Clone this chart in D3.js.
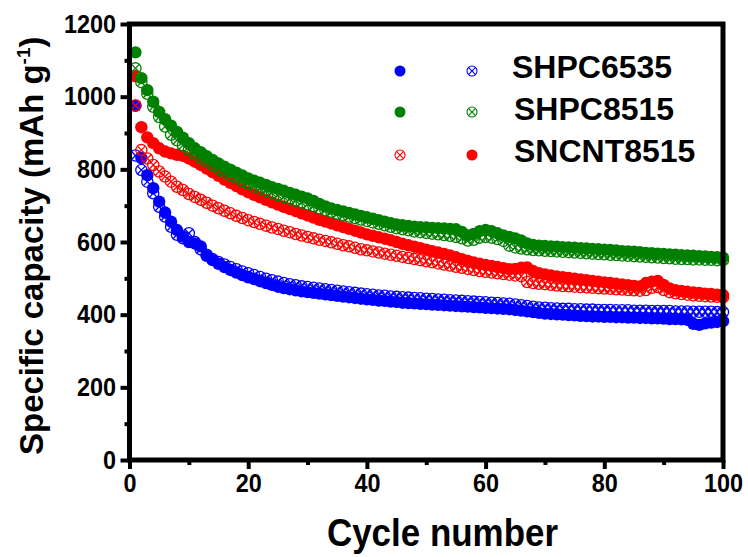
<!DOCTYPE html>
<html>
<head>
<meta charset="utf-8">
<script src="https://cdn.jsdelivr.net/npm/d3@7"></script>
<style>
  body { margin: 0; background: #fff; }
  svg { display: block; }
  text { font-family: "Liberation Sans", Arial, sans-serif; font-weight: bold; fill: #000; }
</style>
</head>
<body>
<svg id="chart" width="748" height="557"></svg>
<script>
// cycle index (x values)
var cycles = d3.range(1, 101);

// SHPC6535
var shpc6535_filled = [
  975, 831, 784, 748, 711, 681, 656, 633, 615, 600,
  596, 588, 562, 550, 540, 531, 523, 516, 509, 503,
  498, 492, 487, 482, 477, 473, 470, 467, 464, 462,
  460, 458, 456, 454, 452, 450, 448, 446, 444, 442,
  441, 439, 438, 436, 435, 433, 432, 431, 430, 429,
  428, 427, 426, 425, 424, 423, 422, 421, 420, 419,
  418, 417, 416, 415, 413, 411, 409, 407, 405, 403,
  402, 401, 400, 399, 398, 397, 396, 395, 395, 394,
  394, 393, 393, 392, 392, 391, 391, 390, 390, 389,
  388, 388, 387, 386, 375, 372, 376, 378, 380, 382
];
var shpc6535_open = [
  838, 798, 766, 734, 697, 670, 642, 620, 610, 624,
  600, 580, 565, 553, 545, 538, 531, 525, 519, 514,
  509, 504, 499, 495, 491, 487, 484, 481, 478, 476,
  474, 472, 470, 468, 466, 464, 462, 460, 458, 456,
  455, 453, 452, 450, 449, 448, 447, 446, 445, 444,
  443, 442, 441, 440, 439, 438, 437, 436, 435, 434,
  433, 432, 431, 430, 428, 426, 424, 422, 420, 419,
  418, 417, 416, 416, 415, 415, 414, 414, 413, 413,
  413, 412, 412, 412, 411, 411, 411, 410, 410, 410,
  410, 409, 409, 409, 408, 408, 408, 408, 407, 407
];

// SHPC8515
var shpc8515_filled = [
  1122, 1051, 1018, 986, 958, 938, 920, 903, 887, 872,
  858, 847, 836, 826, 816, 807, 799, 791, 783, 775,
  769, 763, 757, 751, 746, 741, 735, 730, 725, 720,
  713, 705, 698, 692, 688, 684, 680, 676, 672, 668,
  664, 660, 656, 652, 648, 646, 644, 642, 641, 640,
  639, 638, 637, 636, 635, 628, 618, 622, 630, 633,
  630, 624, 618, 614, 610, 604, 596, 592, 590, 589,
  588, 587, 586, 585, 584, 583, 582, 581, 580, 579,
  578, 577, 575, 574, 573, 572, 570, 569, 568, 567,
  566, 565, 564, 563, 562, 561, 560, 559, 558, 557
];
var shpc8515_open = [
  1078, 1040, 1008, 972, 944, 918, 895, 880, 866, 853,
  842, 831, 821, 811, 801, 792, 784, 776, 768, 760,
  753, 747, 741, 735, 729, 724, 719, 714, 709, 704,
  699, 693, 688, 683, 678, 674, 670, 666, 662, 658,
  654, 650, 646, 642, 638, 635, 632, 629, 627, 625,
  623, 621, 619, 617, 614, 610, 604, 606, 612, 614,
  612, 608, 603, 590, 585, 582, 580, 578, 577, 576,
  575, 574, 573, 572, 571, 570, 569, 568, 567, 566,
  565, 564, 563, 562, 561, 560, 559, 558, 557, 556,
  555, 554, 553, 553, 552, 552, 551, 551, 550, 550
];

// SNCNT8515
var sncnt8515_filled = [
  1056, 916, 888, 872, 858, 849, 844, 840, 837, 830,
  821, 812, 802, 792, 782, 772, 763, 754, 745, 737,
  730, 723, 716, 709, 703, 697, 691, 685, 679, 673,
  667, 661, 656, 651, 646, 641, 636, 631, 626, 621,
  617, 613, 609, 605, 600, 595, 591, 587, 583, 579,
  575, 571, 567, 563, 558, 553, 548, 544, 540, 537,
  534, 531, 528, 525, 526, 529, 530, 520, 514, 511,
  508, 505, 503, 501, 499, 497, 495, 493, 491, 489,
  487, 485, 483, 481, 479, 478, 487, 491, 493, 482,
  472, 467, 465, 463, 461, 460, 458, 457, 455, 454
];
var sncnt8515_open = [
  976, 853, 830, 812, 794, 780, 766, 752, 743, 732,
  724, 716, 708, 700, 693, 686, 679, 672, 666, 660,
  655, 650, 645, 640, 636, 631, 627, 622, 618, 614,
  610, 606, 603, 599, 595, 591, 588, 584, 580, 577,
  574, 571, 568, 565, 562, 559, 556, 553, 550, 547,
  544, 541, 538, 535, 532, 529, 526, 523, 520, 518,
  516, 514, 512, 510, 508, 506, 490, 487, 485, 484,
  482, 480, 479, 478, 477, 476, 475, 474, 473, 472,
  471, 470, 469, 468, 467, 466, 468, 474, 476, 468,
  462, 459, 457, 455, 453, 452, 451, 450, 449, 448
];

var xTicks = [0, 20, 40, 60, 80, 100];
var xMinor = [10, 30, 50, 70, 90];
var yTicks = [0, 200, 400, 600, 800, 1000, 1200];
var yMinor = [100, 300, 500, 700, 900, 1100];

// draw order matters: later ones on top
var series = [
  {name: "SHPC6535", values: shpc6535_filled, color: "#0000ff", open: false},
  {name: "SHPC6535", values: shpc6535_open, color: "#0000ff", open: true},
  {name: "SNCNT8515", values: sncnt8515_open, color: "#ff0000", open: true},
  {name: "SNCNT8515", values: sncnt8515_filled, color: "#ff0000", open: false},
  {name: "SHPC8515", values: shpc8515_filled, color: "#008000", open: false},
  {name: "SHPC8515", values: shpc8515_open, color: "#008000", open: true}
];

var legendRows = [
  {label: "SHPC6535", color: "#0000ff", first: "filled", second: "open"},
  {label: "SHPC8515", color: "#008000", first: "filled", second: "open"},
  {label: "SNCNT8515", color: "#ff0000", first: "open", second: "filled"}
];

var svg = d3.select("#chart");

var x = d3.scaleLinear().domain([0, 100]).range([129.5, 723]);
var y = d3.scaleLinear().domain([0, 1200]).range([460, 24]);

var txtScale = 0.9;

// markers
function drawFilled(g, color, r) {
  g.append("circle").attr("r", r).attr("fill", color);
}
function drawOpen(g, color, r, sw) {
  var d = r * 0.7071;
  g.append("circle").attr("r", r).attr("fill", "none")
    .attr("stroke", color).attr("stroke-width", sw);
  g.append("line").attr("x1", -d).attr("y1", -d).attr("x2", d).attr("y2", d)
    .attr("stroke", color).attr("stroke-width", sw);
  g.append("line").attr("x1", -d).attr("y1", d).attr("x2", d).attr("y2", -d)
    .attr("stroke", color).attr("stroke-width", sw);
}

var plot = svg.append("g").attr("class", "plot");

series.forEach(function (s) {
  plot.append("g")
    .selectAll("g")
    .data(s.values)
    .join("g")
    .attr("transform", function (d, i) { return "translate(" + x(cycles[i]) + "," + y(d) + ")"; })
    .each(function () {
      if (s.open) drawOpen(d3.select(this), s.color, 5.6, 1.3);
      else drawFilled(d3.select(this), s.color, 6.2);
    });
});

// axes
var fmt = d3.format("d");
var xAxis = svg.append("g")
  .attr("transform", "translate(0," + y(0) + ")")
  .call(d3.axisBottom(x).tickValues(xTicks).tickFormat(fmt).tickSize(9).tickPadding(4.5).tickSizeOuter(0));
var xAxisMinor = svg.append("g")
  .attr("transform", "translate(0," + y(0) + ")")
  .call(d3.axisBottom(x).tickValues(xMinor).tickSize(5).tickFormat("").tickSizeOuter(0));
var yAxis = svg.append("g")
  .attr("transform", "translate(" + x(0) + ",0)")
  .call(d3.axisLeft(y).tickValues(yTicks).tickFormat(fmt).tickSize(9).tickPadding(6).tickSizeOuter(0));
var yAxisMinor = svg.append("g")
  .attr("transform", "translate(" + x(0) + ",0)")
  .call(d3.axisLeft(y).tickValues(yMinor).tickSize(5).tickFormat("").tickSizeOuter(0));

[xAxis, xAxisMinor, yAxis, yAxisMinor].forEach(function (a) {
  a.select(".domain").remove();
  a.selectAll(".tick line").attr("stroke", "#000").attr("stroke-width", 4);
  a.selectAll(".tick text")
    .style("font-size", "26px")
    .style("font-family", "'Liberation Sans', Arial, sans-serif")
    .style("font-weight", "bold")
    .attr("fill", "#000")
    .attr("transform", "scale(" + txtScale + ",1)");
});

// frame
svg.append("rect")
  .attr("x", x(0)).attr("y", y(1200))
  .attr("width", x(100) - x(0)).attr("height", y(0) - y(1200))
  .attr("fill", "none").attr("stroke", "#000").attr("stroke-width", 5);

// axis titles
svg.append("text")
  .attr("transform", "translate(442.5,546) scale(0.92,1)")
  .attr("text-anchor", "middle")
  .style("font-size", "38px")
  .text("Cycle number");

var yt = svg.append("text")
  .attr("transform", "translate(43,455) rotate(-90)")
  .attr("text-anchor", "start")
  .style("font-size", "33px");
yt.append("tspan").text("Specific capacity (mAh g");
yt.append("tspan").attr("dy", -13).style("font-size", "19px").text("-1");
yt.append("tspan").attr("dy", 13).text(")");

// legend
var legend = svg.append("g").attr("class", "legend");
var legendY = [71, 112, 155];
var legendBase = [78, 120, 162];
var legendTextX = [512, 514, 514];
legendRows.forEach(function (row, i) {
  var g1 = legend.append("g").attr("transform", "translate(400," + legendY[i] + ")");
  var g2 = legend.append("g").attr("transform", "translate(472," + legendY[i] + ")");
  if (row.first === "filled") drawFilled(g1, row.color, 5.5); else drawOpen(g1, row.color, 5, 1.1);
  if (row.second === "filled") drawFilled(g2, row.color, 5.5); else drawOpen(g2, row.color, 5, 1.1);
  legend.append("text")
    .attr("x", legendTextX[i]).attr("y", legendBase[i])
    .style("font-size", "32px")
    .text(row.label);
});
</script>
</body>
</html>
